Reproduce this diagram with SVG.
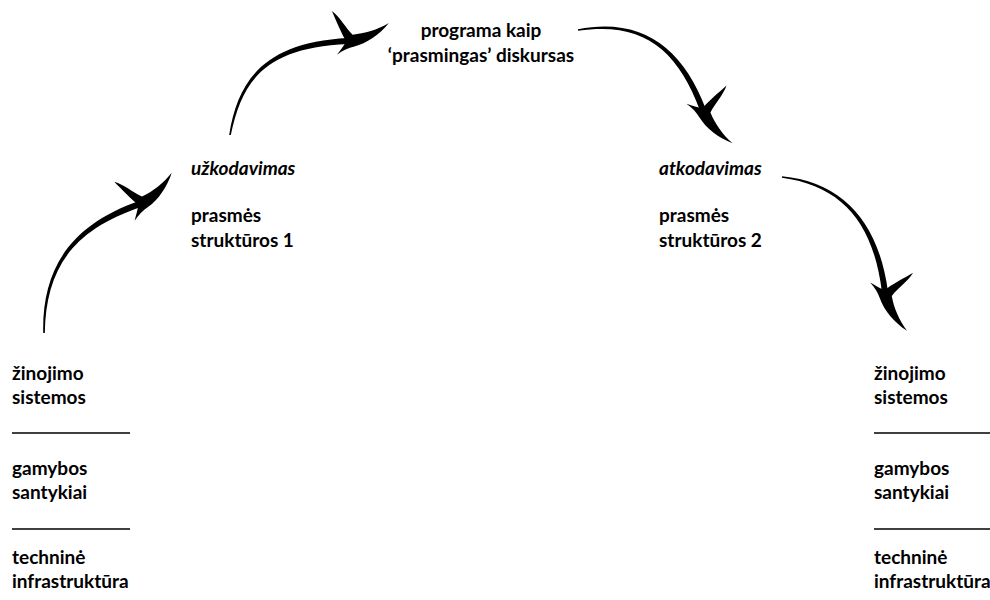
<svg xmlns="http://www.w3.org/2000/svg" width="990" height="600" viewBox="0 0 990 600">
<defs>
<style>
.t{font-family:Lato,"Open Sans","Liberation Sans",sans-serif;font-weight:700;font-size:19px;fill:#000}
.i{font-style:italic}
.rule{stroke:#000;stroke-width:1.3}
.shaft{fill:#000}
</style>
<path id="head" d="M42,-15 C32,-4 18,4 6,6 C0,7 -6,9 -12,13 C-8,8 -4,4 -2,0 C-6,-8 -10,-20 -14,-31 C-6,-24 -2,-14 5,-6 C17,-6 30,-9 42,-15 Z" fill="#000"/>
</defs>
<rect width="990" height="600" fill="#fff"/>
<g id="connectors">
<g id="arrow-1">
<path class="shaft" d="M44.8,333 C46,270 71,230.5 141,207 L139,201 C69,225.5 42,270 43.2,333 Z"/>
<use href="#head" transform="translate(140,204) rotate(-25)"/>
</g>
<g id="arrow-2">
<path class="shaft" d="M230.8,135.1 C242,80.4 265.2,47.6 348.1,44 L347.9,38 C264.8,42.4 238,79.6 229.2,134.9 Z"/>
<use href="#head" transform="translate(348,41) rotate(-4)"/>
</g>
<g id="arrow-3">
<path class="shaft" d="M578.1,30.8 C642.4,21 677.5,49 700.2,111 L705.8,109 C682.5,47 641.6,17 577.9,29.2 Z"/>
<use href="#head" transform="translate(703,110) rotate(68)"/>
</g>
<g id="arrow-4">
<path class="shaft" d="M781.9,177.8 C841.7,186 873.4,222.4 882,292.4 L888,291.6 C878.6,221.6 842.3,182 782.1,176.2 Z"/>
<use href="#head" transform="translate(885,292) rotate(80)"/>
</g>
</g>
<g id="node-program">
<text class="t" x="481" y="37" text-anchor="middle">programa kaip</text>
<text class="t" x="481" y="62" text-anchor="middle">‘prasmingas’ diskursas</text>
</g>
<g id="node-encoding">
<text class="t i" x="191" y="175">užkodavimas</text>
<text class="t" x="191" y="222">prasmės</text>
<text class="t" x="191" y="247">struktūros 1</text>
</g>
<g id="node-decoding">
<text class="t i" x="659" y="175">atkodavimas</text>
<text class="t" x="659" y="222">prasmės</text>
<text class="t" x="659" y="247">struktūros 2</text>
</g>
<g id="node-left">
<text class="t" x="12" y="380">žinojimo</text>
<text class="t" x="12" y="404">sistemos</text>
<line class="rule" x1="12" y1="433" x2="130" y2="433"/>
<text class="t" x="12" y="475">gamybos</text>
<text class="t" x="12" y="499">santykiai</text>
<line class="rule" x1="12" y1="529" x2="130" y2="529"/>
<text class="t" x="12" y="564">techninė</text>
<text class="t" x="12" y="588">infrastruktūra</text>
</g>
<g id="node-right">
<text class="t" x="874" y="380">žinojimo</text>
<text class="t" x="874" y="404">sistemos</text>
<line class="rule" x1="874" y1="433" x2="990" y2="433"/>
<text class="t" x="874" y="475">gamybos</text>
<text class="t" x="874" y="499">santykiai</text>
<line class="rule" x1="874" y1="529" x2="990" y2="529"/>
<text class="t" x="874" y="564">techninė</text>
<text class="t" x="874" y="588">infrastruktūra</text>
</g>
</svg>
